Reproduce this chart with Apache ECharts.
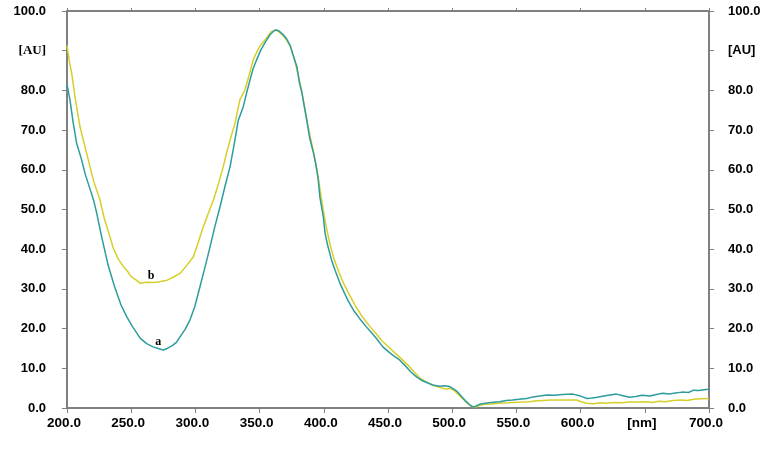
<!DOCTYPE html>
<html><head><meta charset="utf-8">
<script src="https://cdn.jsdelivr.net/npm/echarts@6/dist/echarts.min.js"></script>
<style>html,body{margin:0;padding:0;background:#fff}#c{width:784px;height:449px}</style>
</head><body><div id="c"></div>
<script>
// wavelength (nm) and absorbance for curve a (teal)
var nmA = [200,202.3,204.9,207.5,211.4,214,217.9,220.5,223,227,232,237,242,246.5,251,257,262,267,271,275,278,282,285.4,288,292,295.8,299.5,303.6,307.5,311.4,315,319.2,323,327,330,333.4,337.3,340,342.5,345,347.7,351,354,358,362,365,368.5,371,373.7,376,379,381,383,386.7,389,392,394,395.7,397,399.6,401,403,406,409,412.6,416,419,423,428,433,437,441,446,451,455,459,463,468,472,476,481,485,490,494,498,501,504,507,511,514,516.5,519,522,526,530,537,542,547,552,558,563,568,574,580,586,594,600,605,609,613,618,623,628,633,638,643,648,654,659,664,669,674,679,684,688,692,696,700];
var auA = [81.5,77.6,71.7,66.7,62.5,59.1,55.2,52.6,49.3,43.1,36,30.6,26,23,20.5,17.6,16.2,15.4,15.0,14.6,15.0,15.7,16.6,17.9,19.8,22.2,25.5,30.6,35.5,40.6,45.5,50.7,55.8,60.8,66,72.5,75.9,79.5,82.6,85.5,87.7,90.2,91.9,94,95.2,95,94,93,91.4,89,86,82,79.3,72.5,68,64.2,61,57.4,53,48.2,44,41,37.3,34.5,31.4,29,27,24.7,22.5,20.5,19,17.5,15.4,14,13,12.1,10.8,9,7.9,7,6.3,5.8,5.5,5.6,5.4,4.8,4.1,3,1.6,0.7,0.2,0.6,1.0,1.2,1.4,1.6,1.9,2.0,2.2,2.4,2.8,3.0,3.3,3.2,3.4,3.5,3.0,2.4,2.5,2.7,3.0,3.3,3.5,3.1,2.7,2.9,3.2,3.0,3.4,3.7,3.5,3.8,4.0,3.9,4.5,4.4,4.6,4.7];
// curve b (yellow)
var nmB = [200,202,203.7,206.2,210.1,212.7,216.6,220.5,225.7,229,233.5,236,240,244,247,250,254,257,262,267,272,278,283,288,293,298.4,302,306.2,310,314,318,321.7,324.5,327,330.8,334.7,338.6,342,345,348,351,355,359,363,366,369,371,374,377,380,383,386,389,392,395,398,400,402,405,408,412,416,420,425,430,436,440,445,450,455,460,465,470,475,480,485,490,495,498,502,506,510,514,517,520,524,530,537,543,548,555,560,566,571,576,583,590,597,601,605,610,615,620,626,632,638,645,651,656,661,666,672,678,683,688,694,700];
var auB = [91.3,87,84.3,78.4,70.9,67.5,62.5,57.4,52.4,47.8,43.1,40.3,37.5,35.6,34.5,33.1,32.2,31.4,31.7,31.6,31.8,32.2,33,33.9,35.8,38.1,41.5,45.7,49,52.4,56.5,60.8,64.5,67.5,71.7,77.7,80.1,84,87.7,89.8,91.5,93,94.8,95.2,94.5,93.5,92.7,91,88,84,79.5,74,69,64.5,59.5,53,49,45.5,41,37.5,34,31,28.5,25.5,23,20.5,19,17,15.5,14,12.5,11,9.2,7.5,6.5,5.7,5.2,4.8,5.0,4.3,3.0,1.8,0.6,0.1,0.5,0.9,1.0,1.2,1.3,1.4,1.5,1.6,1.8,1.9,2.0,2.0,2.0,2.0,1.5,1.2,1.1,1.3,1.2,1.4,1.3,1.5,1.5,1.6,1.4,1.7,1.6,1.9,2.0,1.9,2.2,2.3,2.4];
// curve labels (data coordinates)
var labelA = {text:'a', nm:271, au:16.6};
var labelB = {text:'b', nm:265.5, au:33.2};
var xUnit = '[nm]', yUnit = '[AU]';

function zip(x,y){return x.map(function(v,i){return [v,y[i]];});}
var axisCol = '#808080';
var lblBase = {color:'#000', fontWeight:'bold', fontFamily:'Liberation Sans, Arial', fontSize:13};
function yAxis(pos, serifUnit){
  return {type:'value', position:pos, min:0, max:100, interval:10,
    axisLine:{show:true, onZero:false, lineStyle:{color:axisCol, width:2}},
    axisTick:{show:true, length:5, lineStyle:{color:axisCol, width:1}},
    splitLine:{show:false},
    axisLabel:Object.assign({}, lblBase, {margin: pos==='left'?21:19,
      formatter:function(v){return Math.round(v)===90 ? (serifUnit?'{s|'+yUnit+'}':yUnit) : v.toFixed(1);},
      rich:{s:{fontFamily:'Liberation Serif, Times New Roman', fontWeight:'bold', fontSize:13, color:'#000'}}})
  };
}
var chart = echarts.init(document.getElementById('c'), null, {renderer:'canvas'});
chart.setOption({
  animation:false,
  backgroundColor:'#fff',
  grid:{left:67, right:75, top:11, bottom:41},
  xAxis:[
    {type:'value', position:'bottom', min:200, max:700, interval:50,
     axisLine:{show:true, onZero:false, lineStyle:{color:axisCol, width:2}},
     axisTick:{show:true, length:5, lineStyle:{color:axisCol}},
     splitLine:{show:false},
     axisLabel:Object.assign({}, lblBase, {fontSize:13.5, margin:8, padding:[0,6,0,0],
       formatter:function(v){return Math.round(v)===650 ? xUnit : v.toFixed(1);}})},
    {type:'value', position:'top', min:200, max:700, interval:50,
     axisLine:{show:true, onZero:false, lineStyle:{color:axisCol, width:2}},
     axisTick:{show:true, length:3, lineStyle:{color:axisCol}},
     splitLine:{show:false}, axisLabel:{show:false}}
  ],
  yAxis:[yAxis('left', true), yAxis('right', false)],
  series:[
    {type:'line', name:'b', data:zip(nmB,auB), showSymbol:false, symbol:'none',
     lineStyle:{color:'#d6cf2a', width:1.5}, z:2,
     markPoint:{symbol:'circle', symbolSize:0, data:[{coord:[labelB.nm,labelB.au], value:labelB.text}],
       label:{show:true, position:'inside', formatter:labelB.text, color:'#000', fontWeight:'bold', fontFamily:'Liberation Serif', fontSize:12}}},
    {type:'line', name:'a', data:zip(nmA,auA), showSymbol:false, symbol:'none',
     lineStyle:{color:'#2e9c9c', width:1.5}, z:3,
     markPoint:{symbol:'circle', symbolSize:0, data:[{coord:[labelA.nm,labelA.au], value:labelA.text}],
       label:{show:true, position:'inside', formatter:labelA.text, color:'#000', fontWeight:'bold', fontFamily:'Liberation Serif', fontSize:12}}}
  ]
});
</script></body></html>
